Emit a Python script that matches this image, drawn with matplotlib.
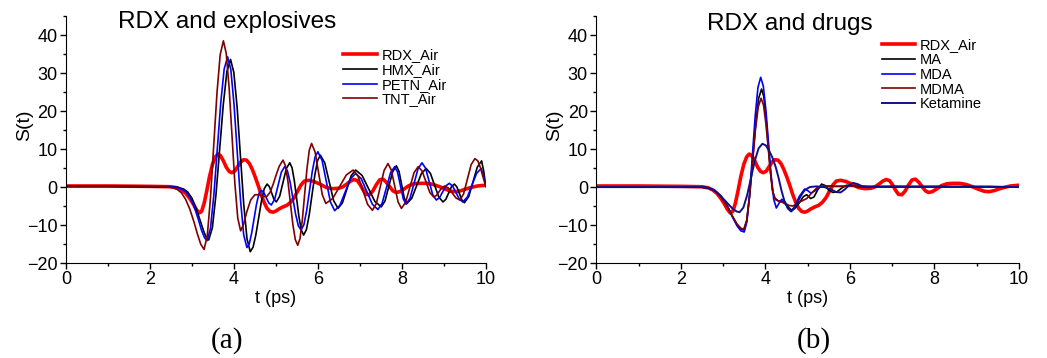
import matplotlib
matplotlib.use('Agg')
import matplotlib.pyplot as plt
from matplotlib.ticker import MultipleLocator

plt.rcParams['font.family'] = 'Liberation Sans'

# RDX_Air (same trace in both panels)
t_rdx = [0, 1, 2, 2.5, 2.65, 2.75, 2.85, 2.95, 3.03, 3.10,
         3.17, 3.23, 3.29, 3.35, 3.42, 3.49, 3.56, 3.62, 3.68, 3.75,
         3.82, 3.89, 3.95, 4.02, 4.09, 4.16, 4.23, 4.30, 4.37, 4.44,
         4.51, 4.58, 4.65, 4.72, 4.79, 4.86, 4.93, 5.00, 5.08, 5.17,
         5.26, 5.35, 5.44, 5.52, 5.60, 5.68, 5.78, 5.90, 6.05, 6.20,
         6.35, 6.50, 6.60, 6.70, 6.78, 6.86, 6.94, 7.01, 7.08, 7.15,
         7.23, 7.31, 7.39, 7.47, 7.55, 7.63, 7.71, 7.79, 7.86, 7.95,
         8.05, 8.17, 8.30, 8.45, 8.60, 8.75, 8.90, 9.05, 9.18, 9.30,
         9.42, 9.55, 9.68, 9.80, 9.90, 10.0]
s_rdx = [0.3, 0.3, 0.2, 0.1, -0.2, -0.7, -1.6, -3.0, -4.4, -5.8,
         -6.8, -6.4, -4.3, -1.2, 2.8, 6.0, 8.0, 8.7, 8.3, 6.9,
         5.2, 4.1, 3.8, 4.2, 5.4, 6.6, 7.2, 7.1, 6.2, 4.6,
         2.6, 0.4, -2.0, -4.0, -5.6, -6.4, -6.6, -6.3, -5.7, -5.2,
         -4.8, -4.0, -2.7, -1.0, 0.6, 1.6, 1.8, 1.5, 0.8, -0.1,
         -0.4, -0.3, 0.1, 0.9, 1.6, 2.0, 1.7, 0.6, -0.8, -1.9,
         -2.0, -1.0, 0.6, 1.9, 2.1, 1.3, 0.1, -1.0, -1.4, -1.2,
         -0.5, 0.4, 0.9, 1.0, 1.0, 0.7, 0.1, -0.6, -1.1, -1.2,
         -0.9, -0.4, 0.0, 0.3, 0.4, 0.5]

# (a) explosives
t_hmx = [0, 1, 2, 2.5, 2.65, 2.8, 2.9, 3.0, 3.1, 3.2, 3.28, 3.34, 3.40,
         3.487, 3.573, 3.66, 3.747, 3.833, 3.92,
         3.998, 4.077, 4.155, 4.233, 4.312, 4.39,
         4.457, 4.523, 4.59, 4.657, 4.723, 4.79,
         4.845, 4.90, 4.955, 5.01, 5.09, 5.17, 5.25, 5.33,
         5.385, 5.44, 5.495, 5.55, 5.605, 5.66,
         5.727, 5.793, 5.86, 5.927, 5.993, 6.06,
         6.165, 6.27, 6.375, 6.48, 6.585, 6.69, 6.795, 6.90,
         7.053, 7.205, 7.358, 7.51, 7.60, 7.69, 7.78, 7.87,
         7.933, 7.995, 8.058, 8.12, 8.235, 8.35, 8.465, 8.58,
         8.68, 8.78, 8.88, 8.98, 9.048, 9.115, 9.183, 9.25,
         9.31, 9.37, 9.43, 9.49, 9.593, 9.695, 9.798, 9.90, 9.95, 10.0]
s_hmx = [0.2, 0.2, 0.1, 0.1, 0.0, -0.5, -1.3, -2.9, -5.6, -8.9, -11.6, -13.2, -13.9,
         -10.7, -2.0, 9.85, 21.7, 30.4, 33.6,
         30.2, 21.0, 8.3, -4.35, -13.6, -17.0,
         -15.8, -12.55, -8.1, -3.65, -0.4, 0.8,
         0.11, -1.55, -3.21, -3.9, -2.4, 1.25, 4.9, 6.4,
         5.1, 1.65, -3.1, -7.85, -11.3, -12.6,
         -11.2, -7.35, -2.1, 3.15, 7.0, 8.4,
         6.36, 1.4, -3.56, -5.6, -4.13, -0.55, 3.03, 4.5,
         3.08, -0.35, -3.78, -5.2, -3.62, 0.2, 4.02, 5.6,
         4.15, 0.65, -2.85, -4.3, -2.96, 0.3, 3.56, 4.9,
         3.62, 0.5, -2.62, -3.9, -3.21, -1.55, 0.11, 0.8,
         0.08, -1.65, -3.38, -4.1, -2.49, 1.4, 5.29, 6.9, 4.2, 0.2]

t_petn = [0, 1, 2, 2.5, 2.65, 2.75, 2.85, 2.95, 3.05, 3.15, 3.23, 3.30, 3.36,
          3.442, 3.523, 3.605, 3.687, 3.768, 3.85,
          3.927, 4.003, 4.08, 4.157, 4.233, 4.31,
          4.367, 4.423, 4.48, 4.537, 4.593, 4.65,
          4.71, 4.77, 4.83, 4.89, 4.97, 5.05, 5.13, 5.21,
          5.275, 5.34, 5.405, 5.47, 5.535, 5.60,
          5.667, 5.733, 5.80, 5.867, 5.933, 6.00,
          6.10, 6.20, 6.30, 6.40, 6.525, 6.65, 6.775, 6.90,
          7.033, 7.165, 7.298, 7.43, 7.53, 7.63, 7.73, 7.83,
          7.898, 7.965, 8.033, 8.10, 8.195, 8.29, 8.385, 8.48,
          8.565, 8.65, 8.735, 8.82, 8.898, 8.975, 9.053, 9.13,
          9.21, 9.29, 9.37, 9.45, 9.56, 9.67, 9.78, 9.89, 9.95, 10.0]
s_petn = [0.2, 0.2, 0.1, 0.1, -0.1, -0.5, -1.2, -2.6, -5.0, -8.4, -11.4, -13.3, -14.1,
          -10.86, -2.0, 10.1, 22.2, 31.06, 34.3,
          30.94, 21.75, 9.2, -3.35, -12.54, -15.9,
          -14.9, -12.1, -8.35, -4.58, -1.81, -0.8,
          -1.37, -2.75, -4.13, -4.7, -3.23, 0.35, 3.93, 5.4,
          4.28, 1.23, -2.95, -7.13, -10.18, -11.3,
          -9.92, -6.15, -1.0, 4.15, 7.92, 9.3,
          7.04, 1.55, -3.94, -6.2, -4.77, -1.3, 2.17, 3.6,
          2.21, -1.15, -4.51, -5.9, -4.25, -0.25, 3.75, 5.4,
          3.95, 0.45, -3.05, -4.5, -2.91, 0.95, 4.81, 6.4,
          4.97, 1.5, -1.97, -3.4, -2.76, -1.2, 0.36, 1.0,
          0.28, -1.45, -3.18, -3.9, -2.62, 0.5, 3.62, 4.9, 2.8, 0.2]

t_tnt = [0, 1, 2, 2.4, 2.55, 2.65, 2.75, 2.85, 2.95, 3.05, 3.13, 3.21, 3.29,
         3.367, 3.443, 3.52, 3.597, 3.673, 3.75,
         3.818, 3.887, 3.955, 4.023, 4.092, 4.16,
         4.23, 4.31, 4.40, 4.50, 4.60, 4.70, 4.78, 4.86, 4.93, 5.00, 5.08, 5.17,
         5.228, 5.287, 5.345, 5.403, 5.462, 5.52,
         5.575, 5.63, 5.685, 5.74, 5.795, 5.85,
         5.935, 6.02, 6.105, 6.19, 6.353, 6.515, 6.678, 6.84,
         6.955, 7.07, 7.185, 7.30, 7.393, 7.485, 7.578, 7.67,
         7.75, 7.83, 7.91, 7.99, 8.09, 8.19, 8.29, 8.39,
         8.483, 8.575, 8.668, 8.76, 8.825, 8.89, 8.955, 9.02,
         9.11, 9.20, 9.29, 9.38, 9.47, 9.56, 9.65, 9.74,
         9.81, 9.875, 9.94, 10.0]
s_tnt = [0.2, 0.2, 0.1, 0.1, -0.2, -0.6, -1.5, -3.2, -5.8, -9.2, -12.3, -15.0, -16.4,
         -12.72, -2.67, 11.05, 24.78, 34.82, 38.5,
         35.15, 26.0, 13.5, 1.0, -8.15, -11.5,
         -9.8, -6.4, -3.4, -2.0, -2.0, -2.5, -2.5, -1.4, 0.6, 3.0, 5.5, 7.1,
         5.6, 1.5, -4.1, -9.7, -13.8, -15.3,
         -13.5, -8.6, -1.9, 4.8, 9.7, 11.5,
         9.19, 3.6, -1.99, -4.3, -3.0, 0.1, 3.2, 4.5,
         2.95, -0.8, -4.55, -6.1, -4.3, 0.05, 4.4, 6.2,
         4.48, 0.3, -3.88, -5.6, -3.99, -0.1, 3.79, 5.4,
         4.23, 1.4, -1.43, -2.6, -2.18, -1.15, -0.12, 0.3,
         -0.24, -1.55, -2.86, -3.4, -1.81, 2.05, 5.91, 7.5,
         6.9, 5.0, 2.4, 0.2]

# (b) drugs
t_ma = [0, 1, 2, 2.5, 2.65, 2.8, 2.95, 3.1, 3.22, 3.33, 3.42, 3.49,
        3.56, 3.63, 3.70, 3.77, 3.84, 3.91,
        3.962, 4.013, 4.065, 4.117, 4.168, 4.22,
        4.30, 4.40, 4.50, 4.61, 4.70, 4.80, 4.90, 4.98, 5.07, 5.15, 5.25, 5.33,
        5.42, 5.50, 5.60, 5.70, 5.80, 5.92, 6.05, 6.2, 7, 8, 9, 10]
s_ma = [0, 0, 0, 0, -0.2, -0.9, -2.4, -5.0, -7.7, -9.9, -11.0, -11.3,
        -8.8, -2.0, 7.25, 16.5, 23.3, 25.8,
        23.9, 18.65, 11.5, 4.35, -0.9, -2.8,
        -3.6, -3.8, -4.7, -6.0, -5.6, -4.2, -2.5, -2.0, -3.0, -2.6, -0.5, 0.8,
        0.4, -0.8, -1.4, -1.2, -0.3, 0.5, 0.3, 0.1, 0.0, 0.1, 0.0, 0.0]

t_mda = [0, 1, 2, 2.5, 2.65, 2.8, 2.95, 3.1, 3.22, 3.33, 3.42, 3.50,
         3.565, 3.63, 3.695, 3.76, 3.825, 3.89,
         3.952, 4.013, 4.075, 4.137, 4.198, 4.26,
         4.32, 4.39, 4.46, 4.53, 4.61, 4.70, 4.80, 4.93, 5.00, 5.08, 5.20, 5.32,
         5.5, 5.7, 6.0, 6.5, 7.5, 8.5, 9.3, 10]
s_mda = [0, 0, 0, 0, -0.2, -0.9, -2.4, -5.0, -7.8, -10.2, -11.5, -11.8,
         -9.1, -1.6, 8.55, 18.7, 26.2, 28.9,
         26.6, 20.3, 11.7, 3.1, -3.2, -5.5,
         -4.3, -3.2, -3.8, -5.4, -6.4, -5.0, -2.5, -0.5, -0.9, -1.6, -0.8, 0.2,
         0.3, 0.2, 0.3, 0.2, 0.1, 0.1, 0.2, 0.0]

t_mdma = [0, 1, 2, 2.5, 2.65, 2.8, 2.95, 3.1, 3.22, 3.33, 3.42, 3.49,
          3.558, 3.627, 3.695, 3.763, 3.832, 3.90,
          3.957, 4.013, 4.07, 4.127, 4.183, 4.24,
          4.35, 4.46, 4.56, 4.65, 4.80, 4.98, 5.10, 5.22, 5.4, 6, 7, 8, 9, 10]
s_mdma = [0, 0, 0, 0, -0.2, -0.9, -2.4, -5.0, -7.6, -9.7, -10.8, -11.1,
          -8.8, -2.5, 6.15, 14.8, 21.1, 23.4,
          21.6, 16.7, 10.05, 3.4, -1.5, -3.3,
          -3.8, -4.2, -4.8, -5.0, -4.0, -3.0, -1.5, -0.2, 0.2, 0.2, 0.1, 0.2, 0.1, 0.0]

t_ket = [0, 1, 2, 2.5, 2.65, 2.8, 2.95, 3.1, 3.22, 3.32, 3.39,
         3.48, 3.57, 3.66, 3.75, 3.84, 3.93,
         4.01, 4.09, 4.17, 4.24, 4.31, 4.38, 4.45, 4.53, 4.61,
         4.68, 4.76, 4.84, 4.93, 5.05, 5.20, 5.40, 5.55, 5.68, 5.78, 5.88, 5.98,
         6.08, 6.18, 6.30, 6.45, 7, 8, 9, 10]
s_ket = [0, 0, 0, 0, -0.2, -0.9, -2.4, -4.2, -5.6, -6.4, -6.6,
         -5.4, -2.1, 2.4, 6.9, 10.2, 11.4,
         11.0, 9.6, 7.7, 5.5, 2.6, -0.8, -3.6, -5.6, -6.4,
         -5.7, -4.0, -2.3, -0.8, 0.0, 0.2, 0.0, -0.6, -1.3, -1.4, -0.6, 0.5,
         1.1, 0.8, 0.2, 0.0, 0.2, 0.1, 0.1, 0.0]

fig = plt.figure(figsize=(10.47, 3.58), dpi=100)
ax1 = fig.add_axes([0.063, 0.265, 0.401, 0.690])
ax2 = fig.add_axes([0.5695, 0.265, 0.4037, 0.690])

ax1.plot(t_rdx, s_rdx, color='#ff0000', lw=2.6, label='RDX_Air')
ax1.plot(t_hmx, s_hmx, color='black', lw=1.2, label='HMX_Air')
ax1.plot(t_petn, s_petn, color='#0000ff', lw=1.2, label='PETN_Air')
ax1.plot(t_tnt, s_tnt, color='#800000', lw=1.2, label='TNT_Air')

ax2.plot(t_rdx, s_rdx, color='#ff0000', lw=2.6, label='RDX_Air')
ax2.plot(t_ma, s_ma, color='black', lw=1.2, label='MA')
ax2.plot(t_mda, s_mda, color='#0000ff', lw=1.2, label='MDA')
ax2.plot(t_mdma, s_mdma, color='#800000', lw=1.2, label='MDMA')
ax2.plot(t_ket, s_ket, color='#10108c', lw=1.4, label='Ketamine')

for ax in (ax1, ax2):
    ax.set_xlim(0, 10)
    ax.set_ylim(-20, 45)
    ax.spines['top'].set_visible(False)
    ax.spines['right'].set_visible(False)
    ax.xaxis.set_major_locator(MultipleLocator(2))
    ax.xaxis.set_minor_locator(MultipleLocator(1))
    ax.yaxis.set_minor_locator(MultipleLocator(5))
    ax.set_yticks([-20, -10, 0, 10, 20, 30, 40])
    ax.tick_params(which='major', length=4, width=1, labelsize=13, pad=2)
    ax.tick_params(which='minor', length=2.5, width=1)
    ax.set_xlabel('t (ps)', fontsize=13, labelpad=1)
    ax.set_ylabel('S(t)', fontsize=14)
    ax.yaxis.set_label_coords(-0.078, 0.56)

ax1.text(0.385, 0.977, 'RDX and explosives', transform=ax1.transAxes, fontsize=17.5,
         ha='center', va='center')
ax2.text(0.458, 0.968, 'RDX and drugs', transform=ax2.transAxes, fontsize=17.5,
         ha='center', va='center')

ax1.legend(loc='upper left', bbox_to_anchor=(0.66, 0.87), frameon=False, fontsize=10.5,
           handlelength=2.3, handletextpad=0.35, labelspacing=0.05, borderpad=0, borderaxespad=0)
ax2.legend(loc='upper left', bbox_to_anchor=(0.675, 0.91), frameon=False, fontsize=10.5,
           handlelength=2.3, handletextpad=0.35, labelspacing=0.05, borderpad=0, borderaxespad=0)

# panel letters
fig.text(0.217, 0.05, '(a)', fontsize=21, family='Liberation Serif', ha='center', va='center')
fig.text(0.777, 0.05, '(b)', fontsize=21, family='Liberation Serif', ha='center', va='center')

fig.savefig('out.png', dpi=100)
